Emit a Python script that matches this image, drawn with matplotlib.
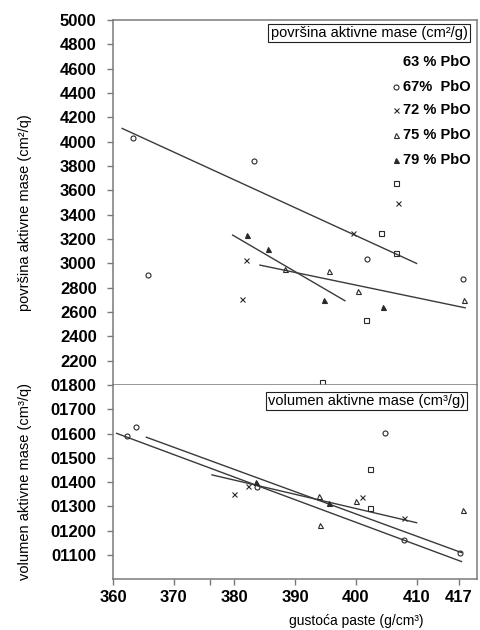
import numpy as np
import matplotlib
matplotlib.use('Agg')
import matplotlib.pyplot as plt

plt.rcParams['font.family'] = ['Liberation Sans', 'DejaVu Sans']

# gornji dio: povrsina aktivne mase
pov_circle_x = [363.3, 383.2, 365.8, 401.9, 417.6]
pov_circle_y = [4035, 3841, 2904, 3035, 2868]
pov_cross_x = [381.9, 381.2, 406.9, 399.6]
pov_cross_y = [3027, 2707, 3493, 3247]
pov_otri_x = [388.3, 395.6, 400.3, 417.8]
pov_otri_y = [2955, 2939, 2775, 2698]
pov_ftri_x = [382.0, 385.6, 394.7, 404.5]
pov_ftri_y = [3233, 3120, 2698, 2643]
pov_square_x = [404.2, 406.6, 401.7, 394.4]
pov_square_y = [3247, 3082, 2534, 2025]

pov_fit_x = [[361.5, 410.0], [379.7, 398.2], [384.2, 418.0]]
pov_fit_y = [[4110, 3000], [3233, 2693], [2986, 2635]]

# donji dio: volumen aktivne mase
vol_circle_x = [362.3, 363.8, 383.7, 404.8, 407.9, 417.2]
vol_circle_y = [1591, 1628, 1379, 1601, 1161, 1107]
vol_cross_x = [379.9, 382.3, 401.0, 408.0]
vol_cross_y = [1351, 1386, 1340, 1254]
vol_ftri_x = [383.5, 395.6]
vol_ftri_y = [1401, 1313]
vol_otri_x = [394.0, 400.0, 394.1, 417.6]
vol_otri_y = [1343, 1324, 1224, 1286]
vol_square_x = [402.4, 402.4]
vol_square_y = [1453, 1293]

vol_fit_x = [[360.6, 417.4], [365.5, 417.4], [376.3, 410.0]]
vol_fit_y = [[1601, 1073], [1585, 1110], [1430, 1233]]

legend_labels = ['63 % PbO', '67%  PbO', '72 % PbO', '75 % PbO', '79 % PbO']
x_ticks = [360, 370, 380, 390, 400, 410, 417]
pov_ticks = np.arange(2200, 5001, 200)
vol_ticks = np.arange(1100, 1801, 100)

spine_col = '#7a7a7a'
line_col = '#3a3a3a'
mk_col = '#2a2a2a'

fig = plt.figure(figsize=(4.81, 6.30), dpi=100)
gs = fig.add_gridspec(2, 1, height_ratios=[365, 194.3], hspace=0,
                      left=0.235, right=0.991, top=0.968, bottom=0.0805)
ax1 = fig.add_subplot(gs[0])
ax2 = fig.add_subplot(gs[1], sharex=ax1)


def markers(ax, xs, ys, m, filled=False, ms=3.6):
    fc = mk_col if filled else 'none'
    ax.plot(xs, ys, ls='none', marker=m, ms=ms, mfc=fc, mec=mk_col, mew=0.8)


for xs, ys in zip(pov_fit_x, pov_fit_y):
    ax1.plot(xs, ys, color=line_col, lw=1.0)
markers(ax1, pov_circle_x, pov_circle_y, 'o')
markers(ax1, pov_cross_x, pov_cross_y, 'x')
markers(ax1, pov_otri_x, pov_otri_y, '^')
markers(ax1, pov_ftri_x, pov_ftri_y, '^', filled=True)
markers(ax1, pov_square_x, pov_square_y, 's')

for xs, ys in zip(vol_fit_x, vol_fit_y):
    ax2.plot(xs, ys, color=line_col, lw=1.0)
markers(ax2, vol_circle_x, vol_circle_y, 'o')
markers(ax2, vol_cross_x, vol_cross_y, 'x')
markers(ax2, vol_otri_x, vol_otri_y, '^')
markers(ax2, vol_ftri_x, vol_ftri_y, '^', filled=True)
markers(ax2, vol_square_x, vol_square_y, 's')

ax1.set_xlim(360, 419.9)
ax1.set_ylim(2000, 5000)
ax2.set_ylim(1000, 1800)

ax1.set_yticks(pov_ticks)
ax1.set_yticklabels([str(v) for v in pov_ticks])
ax2.set_yticks(vol_ticks)
ax2.set_yticklabels(['0%d' % v for v in vol_ticks])
ax2.set_xticks(x_ticks + [376])
ax2.set_xticklabels([str(v) for v in x_ticks] + [''])
ax1.tick_params(axis='x', bottom=False, labelbottom=False)

for ax in (ax1, ax2):
    for s in ax.spines.values():
        s.set_color(spine_col)
        s.set_linewidth(1.1)
    ax.tick_params(axis='both', direction='out', color=spine_col, width=1.0,
                   length=4.3, labelsize=12)
    ax.tick_params(axis='y', pad=7.5)
    ax.tick_params(axis='x', pad=3.5)
    for lab in ax.get_xticklabels() + ax.get_yticklabels():
        lab.set_fontweight('bold')
ax2.spines['top'].set_visible(False)

# legenda (kao u originalu, oznake pomaknute za jedan red)
leg_y = [0.885, 0.8164, 0.7534, 0.685, 0.6164]
for lab, yy in zip(legend_labels, leg_y):
    ax1.text(0.982, yy, lab, transform=ax1.transAxes, ha='right', va='center',
             fontsize=10.5, fontweight='bold')
leg_mk = [('o', False), ('x', False), ('^', False), ('^', True), ('s', False)]
leg_mk_y = [0.8164, 0.7534, 0.685, 0.6164, 0.5534]
for (m, f), yy in zip(leg_mk, leg_mk_y):
    ax1.plot([0.778], [yy], transform=ax1.transAxes, ls='none', marker=m, ms=3.6,
             mfc=mk_col if f else 'none', mec=mk_col, mew=0.8)

box = dict(boxstyle='square,pad=0.15', fc='white', ec='#222222', lw=0.8)
ax1.text(0.704, 0.964, 'površina aktivne mase (cm²/g)', transform=ax1.transAxes,
         ha='center', va='center', fontsize=10.5, bbox=box)
ax2.text(0.697, 0.918, 'volumen aktivne mase (cm³/g)', transform=ax2.transAxes,
         ha='center', va='center', fontsize=10.5, bbox=box)

fig.text(0.052, 0.663, 'površina aktivne mase (cm²/q)', rotation=90,
         ha='center', va='center', fontsize=10.5)
fig.text(0.052, 0.235, 'volumen aktivne mase (cm³/q)', rotation=90,
         ha='center', va='center', fontsize=10.5)
fig.text(356 / 481, 1 - 621 / 630, 'gustoća paste (g/cm³)',
         ha='center', va='center', fontsize=10)

fig.savefig('out.png', dpi=100)
